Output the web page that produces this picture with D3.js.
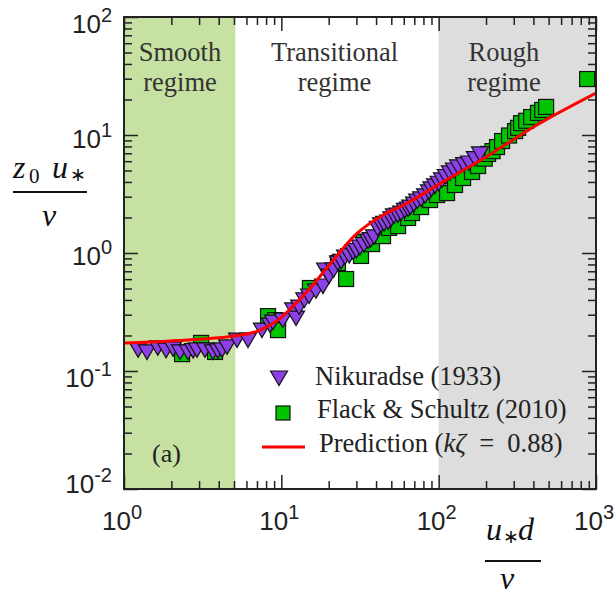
<!DOCTYPE html>
<html>
<head>
<meta charset="utf-8">
<script src="https://cdn.jsdelivr.net/npm/d3@7"></script>
<style>
  body { margin: 0; background: #fff; }
  svg { display: block; }
</style>
</head>
<body>
<svg id="chart" width="616" height="597"></svg>
<script>
// ---- data ----
var nikX = [1.23, 1.40, 1.64, 1.85, 2.05, 2.27, 2.55, 2.75, 2.91, 3.27, 3.68, 3.95, 4.20, 4.52,
            5.23, 6.14, 7.53, 8.48, 8.85, 10.2, 11.9, 12.4, 12.97, 14.0, 15.0, 16.6, 18.4, 18.97, 20.1,
            21.5, 22.9, 24.0, 25.4, 27.0, 28.6, 30.0, 31.6, 33.5, 35.6, 37.0, 38.8, 41.0, 43.0, 45.0,
            47.7, 50.0, 52.0, 55.0, 57.7, 61.0, 63.9, 66.0, 69.7, 73.0, 77.3, 82.0,
            86.8, 90.0, 94.8, 100, 105, 111, 118, 125, 133, 145, 156, 170, 183];
var nikY = [0.151, 0.145, 0.157, 0.150, 0.154, 0.145, 0.145, 0.149, 0.151, 0.151, 0.145, 0.148, 0.151, 0.160,
            0.183, 0.183, 0.222, 0.245, 0.260, 0.27, 0.329, 0.281, 0.348, 0.40, 0.432, 0.477, 0.525, 0.718, 0.638,
            0.72, 0.822, 0.85, 0.925, 0.95, 1.02, 1.05, 1.12, 1.18, 1.26, 1.30, 1.37, 1.62, 1.73, 1.78,
            1.83, 1.95, 2.06, 2.10, 2.18, 2.30, 2.36, 2.45, 2.60, 2.75, 2.87, 3.05,
            3.29, 3.50, 3.70, 3.90, 4.16, 4.45, 4.77, 5.05, 5.36, 5.60, 5.79, 6.30, 6.91];

var fsX = [2.34, 3.09, 3.79, 8.23, 9.12, 9.53, 15.2, 22.9, 25.8, 32.1, 33.6, 37.7, 44.3, 48.4,
           55.2, 63.9, 67.7, 77.3, 88.2, 97.7, 113, 127, 143, 163, 178, 196, 206, 220, 235, 253,
           280, 306, 320, 334, 360, 387, 428, 455, 482, 878];
var fsY = [0.139, 0.173, 0.145, 0.292, 0.270, 0.222, 0.505, 0.822, 0.602, 0.944, 1.24, 1.19, 1.39, 1.63,
           1.69, 1.98, 2.18, 2.45, 2.81, 3.10, 3.22, 3.77, 4.32, 4.86, 5.46, 6.30, 6.91, 7.30, 7.91, 8.89,
           9.90, 10.8, 11.5, 12.6, 13.2, 14.2, 15.4, 16.3, 17.3, 29.8];

var predX = [1, 2, 3, 5, 7, 8.5, 10, 12, 15, 20, 30, 45, 60, 100, 200, 400, 1000];
var predY = [0.173, 0.180, 0.186, 0.198, 0.217, 0.245, 0.285, 0.36, 0.49, 0.78, 1.45, 2.12, 2.55, 3.81, 6.51, 11.7, 22.7];

var xTicks = [1, 10, 100, 1000];
var xTickExp = ["0", "1", "2", "3"];
var yTicks = [0.01, 0.1, 1, 10, 100];
var yTickExp = ["-2", "-1", "0", "1", "2"];

var regimeNames = [["Smooth", "regime"], ["Transitional", "regime"], ["Rough", "regime"]];
var regimeLabelX = [2.27, 21.8, 260];
var smoothBand = [1, 5.1];
var roughBand = [100, 1000];

var legendNames = ["Nikuradse (1933)", "Flack & Schultz (2010)"];

// ---- layout ----
var svg = d3.select("#chart");
var pLeft = 124, pRight = 596, pTop = 17, pBottom = 489;

var x = d3.scaleLog().domain([1, 1000]).range([pLeft, pRight]);
var y = d3.scaleLog().domain([0.01, 100]).range([pBottom, pTop]);

svg.append("defs").append("clipPath").attr("id", "plotclip")
    .append("rect").attr("x", pLeft).attr("y", pTop)
    .attr("width", pRight - pLeft).attr("height", pBottom - pTop);

// regime bands
svg.append("rect")
    .attr("x", x(smoothBand[0])).attr("y", pTop)
    .attr("width", x(smoothBand[1]) - x(smoothBand[0])).attr("height", pBottom - pTop)
    .attr("fill", "#c6e1a1");
svg.append("rect")
    .attr("x", x(roughBand[0])).attr("y", pTop)
    .attr("width", x(roughBand[1]) - x(roughBand[0])).attr("height", pBottom - pTop)
    .attr("fill", "#dcdddc");

// regime labels
regimeNames.forEach(function(lines, i) {
    lines.forEach(function(s, j) {
        svg.append("text")
            .attr("x", x(regimeLabelX[i]))
            .attr("y", 61 + j * 30)
            .attr("text-anchor", "middle")
            .style("font-family", "'Liberation Serif', 'Times New Roman', serif")
            .style("font-size", "26.5px")
            .style("fill", "#333")
            .text(s);
    });
});

// minor tick values
var minorX = [], minorY = [];
[1, 10, 100].forEach(function(d) { for (var k = 2; k < 10; k++) minorX.push(k * d); });
[0.01, 0.1, 1, 10].forEach(function(d) { for (var k = 2; k < 10; k++) minorY.push(k * d); });

function noDomain(g) { g.select(".domain").remove(); g.selectAll("line").attr("stroke", "#222").attr("stroke-width", 1.5); }

svg.append("g").attr("transform", "translate(0," + pBottom + ")")
    .call(d3.axisBottom(x).tickValues(xTicks).tickSize(-14).tickFormat("")).call(noDomain);
svg.append("g").attr("transform", "translate(0," + pBottom + ")")
    .call(d3.axisBottom(x).tickValues(minorX).tickSize(-8).tickFormat("")).call(noDomain);
svg.append("g").attr("transform", "translate(0," + pTop + ")")
    .call(d3.axisTop(x).tickValues(xTicks).tickSize(-14).tickFormat("")).call(noDomain);
svg.append("g").attr("transform", "translate(0," + pTop + ")")
    .call(d3.axisTop(x).tickValues(minorX).tickSize(-8).tickFormat("")).call(noDomain);
svg.append("g").attr("transform", "translate(" + pLeft + ",0)")
    .call(d3.axisLeft(y).tickValues(yTicks).tickSize(-14).tickFormat("")).call(noDomain);
svg.append("g").attr("transform", "translate(" + pLeft + ",0)")
    .call(d3.axisLeft(y).tickValues(minorY).tickSize(-8).tickFormat("")).call(noDomain);
svg.append("g").attr("transform", "translate(" + pRight + ",0)")
    .call(d3.axisRight(y).tickValues(yTicks).tickSize(-14).tickFormat("")).call(noDomain);
svg.append("g").attr("transform", "translate(" + pRight + ",0)")
    .call(d3.axisRight(y).tickValues(minorY).tickSize(-8).tickFormat("")).call(noDomain);

// tick labels
var labelFont = "'Liberation Sans', Arial, sans-serif";
xTicks.forEach(function(t, i) {
    var tx = svg.append("text")
        .attr("x", x(t) - 2).attr("y", 530)
        .attr("text-anchor", "middle")
        .style("font-family", labelFont).style("font-size", "26px").style("fill", "#222");
    tx.append("tspan").text("10");
    tx.append("tspan").attr("dy", -11).style("font-size", "20px").text(xTickExp[i]);
});
var yLabelDy = [4, 16, 12, 13, 16];
yTicks.forEach(function(t, i) {
    var ty = svg.append("text")
        .attr("x", 112).attr("y", y(t) + yLabelDy[i])
        .attr("text-anchor", "end")
        .style("font-family", labelFont).style("font-size", "26px").style("fill", "#222");
    ty.append("tspan").text("10");
    ty.append("tspan").attr("dy", -11).style("font-size", "20px").text(yTickExp[i]);
});

// ---- marks ----
var tri = "M-8.5,-7L8.5,-7L0,7.5Z";
var sq = 15;
var plot = svg.append("g").attr("clip-path", "url(#plotclip)");

plot.selectAll("rect.fs").data(d3.range(fsX.length)).enter().append("rect")
    .attr("class", "fs")
    .attr("x", function(i) { return x(fsX[i]) - sq / 2; })
    .attr("y", function(i) { return y(fsY[i]) - sq / 2; })
    .attr("width", sq).attr("height", sq)
    .attr("fill", "#00c400").attr("stroke", "#111").attr("stroke-width", 1.2);

plot.selectAll("path.nik").data(d3.range(nikX.length)).enter().append("path")
    .attr("class", "nik")
    .attr("d", tri)
    .attr("transform", function(i) { return "translate(" + x(nikX[i]) + "," + y(nikY[i]) + ")"; })
    .attr("fill", "#8c40e6").attr("stroke", "#111").attr("stroke-width", 1.2);

var line = d3.line()
    .x(function(d) { return x(d[0]); })
    .y(function(d) { return y(d[1]); })
    .curve(d3.curveMonotoneX);
plot.append("path")
    .datum(d3.zip(predX, predY))
    .attr("d", line)
    .attr("fill", "none").attr("stroke", "#ff0000").attr("stroke-width", 3);

// frame
svg.append("rect")
    .attr("x", pLeft).attr("y", pTop).attr("width", pRight - pLeft).attr("height", pBottom - pTop)
    .attr("fill", "none").attr("stroke", "#222").attr("stroke-width", 2);

// ---- legend ----
var serif = "'Liberation Serif', 'Times New Roman', serif";
svg.append("path").attr("d", tri).attr("transform", "translate(279,378)")
    .attr("fill", "#8c40e6").attr("stroke", "#111").attr("stroke-width", 1.2);
svg.append("rect").attr("x", 276).attr("y", 406).attr("width", 14).attr("height", 14)
    .attr("fill", "#00c400").attr("stroke", "#111").attr("stroke-width", 1.2);
svg.append("line").attr("x1", 262).attr("x2", 305).attr("y1", 447).attr("y2", 447)
    .attr("stroke", "#ff0000").attr("stroke-width", 3);

svg.append("text").attr("x", 315).attr("y", 385)
    .style("font-family", serif).style("font-size", "26.5px").style("fill", "#222")
    .text(legendNames[0]);
svg.append("text").attr("x", 317).attr("y", 418)
    .style("font-family", serif).style("font-size", "26.5px").style("fill", "#222")
    .text(legendNames[1]);
var pt = svg.append("text").attr("x", 319).attr("y", 452)
    .style("font-family", serif).style("font-size", "26.5px").style("fill", "#222");
pt.append("tspan").text("Prediction (");
pt.append("tspan").style("font-style", "italic").text("k\u03B6");
pt.append("tspan").text("\u2002=\u20020.88)");

svg.append("text").attr("x", 152).attr("y", 462)
    .style("font-family", serif).style("font-size", "26px").style("fill", "#222")
    .text("(a)");

// ---- axis titles ----
var yt = svg.append("text").attr("y", 178)
    .style("font-family", serif).style("font-size", "32px").style("fill", "#111");
yt.append("tspan").attr("x", 13).style("font-style", "italic").text("z");
yt.append("tspan").attr("x", 29).attr("dy", 5).style("font-size", "21px").text("0");
yt.append("tspan").attr("x", 52).attr("dy", -5).style("font-style", "italic").text("u");
yt.append("tspan").attr("x", 70).attr("dy", 3).style("font-size", "19px").text("\u2217");
svg.append("line").attr("x1", 13).attr("x2", 87).attr("y1", 192).attr("y2", 192)
    .attr("stroke", "#111").attr("stroke-width", 2);
svg.append("text").attr("x", 42).attr("y", 226)
    .style("font-family", serif).style("font-size", "32px").style("font-style", "italic").style("fill", "#111")
    .text("\u03BD");

var xt = svg.append("text").attr("y", 540)
    .style("font-family", serif).style("font-size", "32px").style("fill", "#111");
xt.append("tspan").attr("x", 486).style("font-style", "italic").text("u");
xt.append("tspan").attr("x", 503).attr("dy", 3).style("font-size", "19px").text("\u2217");
xt.append("tspan").attr("x", 518).attr("dy", -3).style("font-style", "italic").text("d");
svg.append("line").attr("x1", 485).attr("x2", 541).attr("y1", 561).attr("y2", 561)
    .attr("stroke", "#111").attr("stroke-width", 2);
svg.append("text").attr("x", 500).attr("y", 589)
    .style("font-family", serif).style("font-size", "32px").style("font-style", "italic").style("fill", "#111")
    .text("\u03BD");
</script>
</body>
</html>
